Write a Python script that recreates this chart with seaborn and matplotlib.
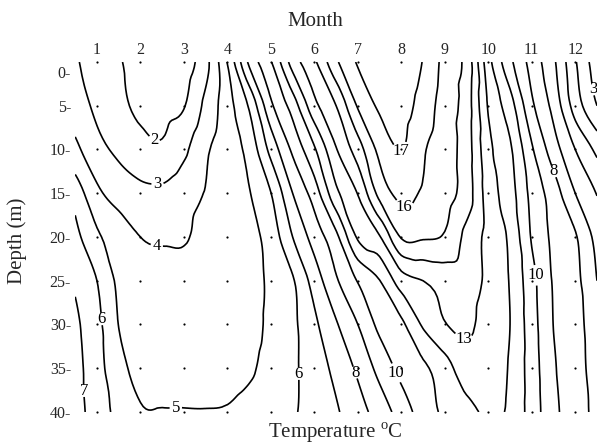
import numpy as np
import pandas as pd
import matplotlib
matplotlib.use("Agg")
import matplotlib.pyplot as plt
import matplotlib.tri as mtri
import matplotlib.transforms as mtransforms
import seaborn as sns

# sampling columns (month) and rows (depth, m)
months = [0.5, 1, 1.5, 2, 2.5, 3, 3.5, 4, 4.5, 5, 5.5, 6, 6.5, 7, 7.5, 8, 8.5, 9, 9.5, 10, 10.5, 11, 11.5, 12, 12.5]
depths = [0, 5, 10, 15, 20, 25, 30, 35, 40]

t_0m = [3.1, 2.6, 2.12, 1.4, 1.35, 1.5, 2.7, 5.05, 8.2, 9.93, 12.43, 13.83, 15.82, 17.1, 17.6, 17.8, 16.95, 15.67, 14.65, 11.38, 9.25, 7.62, 6.18, 4.1, 2.4]
t_5m = [3.5, 2.8, 2.29, 1.75, 1.7, 1.95, 3.25, 4.6, 6.12, 8.79, 10.44, 12.7, 14.0, 16.1, 17.15, 17.4, 16.56, 15.53, 14.5, 11.9, 10.43, 8.2, 6.68, 4.56, 3.0]
t_10m = [4.25, 3.33, 2.8, 2.4, 2.15, 2.8, 3.85, 4.5, 5.34, 7.33, 9.2, 10.87, 12.93, 14.51, 16.27, 17.02, 16.1, 15.47, 14.47, 12.29, 11.15, 9.13, 7.48, 6.0, 4.75]
t_15m = [5.6, 4.23, 3.6, 3.24, 3.2, 3.6, 4.05, 4.48, 4.95, 5.98, 8.0, 9.48, 11.75, 13.05, 15.32, 16.25, 15.88, 15.41, 14.5, 12.54, 11.42, 9.7, 8.51, 7.0, 5.95]
t_20m = [6.3, 5.17, 4.55, 4.0, 3.9, 3.92, 4.3, 4.51, 4.7, 5.43, 7.0, 8.43, 9.75, 12.14, 12.92, 15.08, 15.1, 14.9, 13.72, 12.7, 11.8, 9.91, 8.79, 8.1, 6.65]
t_25m = [6.85, 6.0, 4.8, 4.3, 4.25, 4.3, 4.4, 4.45, 4.65, 5.19, 5.9, 7.44, 8.87, 10.06, 10.97, 12.51, 13.0, 13.35, 13.4, 12.79, 11.93, 10.33, 8.91, 8.28, 7.0]
t_30m = [7.2, 6.3, 4.98, 4.55, 4.5, 4.5, 4.5, 4.5, 4.65, 5.22, 5.8, 6.8, 7.9, 9.0, 10.25, 10.8, 12.13, 12.95, 13.15, 12.62, 12.0, 10.44, 8.98, 8.34, 7.45]
t_35m = [7.35, 6.4, 5.3, 4.75, 4.75, 4.7, 4.65, 4.6, 4.85, 5.37, 5.84, 6.48, 7.28, 8.19, 9.32, 10.29, 10.81, 11.55, 12.6, 12.45, 11.9, 10.51, 9.13, 8.38, 7.6]
t_40m = [7.5, 6.45, 5.75, 5.08, 5.03, 5.03, 5.03, 5.08, 5.37, 5.66, 5.91, 6.35, 6.89, 7.61, 8.45, 9.44, 10.47, 11.19, 11.65, 12.15, 11.83, 10.55, 9.27, 8.42, 7.75]

isotherms = list(range(2, 18))
month_ticks = list(range(1, 13))
depth_ticks = [0, 5, 10, 15, 20, 25, 30, 35, 40]

sns.set_theme(style="white")
plt.rcParams["font.family"] = ["Liberation Serif", "DejaVu Serif"]
plt.rcParams["mathtext.fontset"] = "custom"
plt.rcParams["mathtext.rm"] = "Liberation Serif"

temp = np.array([t_0m, t_5m, t_10m, t_15m, t_20m, t_25m, t_30m, t_35m, t_40m])
mm, dd = np.meshgrid(months, depths)
ncol = len(months)

# split every grid cell along its top-left / bottom-right diagonal
cells = []
for j in range(len(depths) - 1):
    for i in range(ncol - 1):
        a = j * ncol + i
        b, c, d = a + 1, a + ncol, a + ncol + 1
        cells += [[a, b, d], [a, d, c]]

# smooth the grid in (month, depth/5) space, which is isotropic on the page
tri = mtri.Triangulation(mm.ravel(), dd.ravel() / 5.0, cells)
interp = mtri.CubicTriInterpolator(tri, temp.ravel(), kind="geom")
tri_fine, temp_fine = mtri.UniformTriRefiner(tri).refine_field(temp.ravel(), triinterpolator=interp, subdiv=3)
tri_plot = mtri.Triangulation(tri_fine.x, tri_fine.y * 5.0, tri_fine.triangles)

fig = plt.figure(figsize=(6.0, 4.47), dpi=100)
ax = fig.add_axes([0.1254, 0.0783, 0.8696, 0.783])
ax.set_xlim(0.5, 12.5)
ax.set_ylim(40, 0)

cs = ax.tricontour(tri_plot, temp_fine, levels=isotherms, colors="black", linewidths=1.2)

# where the isotherm numbers sit (level, month, depth)
label_spots = [
    (2, 2.38, 8.3), (3, 2.38, 13.5), (3, 12.33, 3.0), (4, 2.38, 20.7), (5, 2.79, 39.6),
    (6, 1.11, 29.3), (6, 5.67, 35.5), (7, 0.68, 37.7), (8, 6.93, 35.5), (8, 11.48, 12.6),
    (10, 7.9, 35.5), (10, 11.25, 24.1), (13, 9.39, 32.6), (16, 8.08, 16.7), (17, 7.97, 11.2),
]
snapped = []
for lev, mx, dy in label_spots:
    idx = list(cs.levels).index(lev)
    verts = cs.get_paths()[idx].vertices
    if len(verts) == 0:
        continue
    pix = ax.transData.transform(verts)
    target = ax.transData.transform((mx, dy))
    k = np.argmin(((pix - target) ** 2).sum(axis=1))
    snapped.append(tuple(verts[k]))
ax.clabel(cs, manual=snapped, inline=True, fmt="%d", fontsize=12, inline_spacing=2)
for txt in cs.labelTexts:
    txt.set_rotation(0)

grid_pts = pd.DataFrame([(m, d) for m in month_ticks for d in depth_ticks], columns=["month", "depth"])
sns.scatterplot(data=grid_pts, x="month", y="depth", color="black", s=2.5, linewidth=0,
                ax=ax, legend=False, clip_on=False)

ax.set_xlim(0.5, 12.5)
ax.set_ylim(40, 0)
ax.xaxis.tick_top()
ax.set_xticks(month_ticks)
ax.set_xticklabels([str(m) for m in month_ticks])
ax.set_yticks(depth_ticks)
ax.set_yticklabels([f"{d}-" for d in depth_ticks])
ax.tick_params(axis="both", length=0, labelsize=11.5)
ax.tick_params(axis="x", pad=3)
ax.tick_params(axis="y", pad=3)
ax.set_xlabel("")
ax.set_ylabel("")
for sp in ax.spines.values():
    sp.set_visible(False)

# the top depth label sits a little lower in the original
first = ax.get_yticklabels()[0]
first.set_transform(first.get_transform() + mtransforms.ScaledTranslation(0, -7 / 72, fig.dpi_scale_trans))

fig.text(315 / 600, 1 - 21 / 447, "Month", ha="center", va="center", fontsize=15)
fig.text(335 / 600, 1 - 433 / 447, r"Temperature $^{\rm o}$C", ha="center", va="center", fontsize=15)
fig.text(17 / 600, 1 - 241 / 447, "Depth (m)", ha="center", va="center", rotation=90, fontsize=15)

fig.savefig("out.png", dpi=100)
